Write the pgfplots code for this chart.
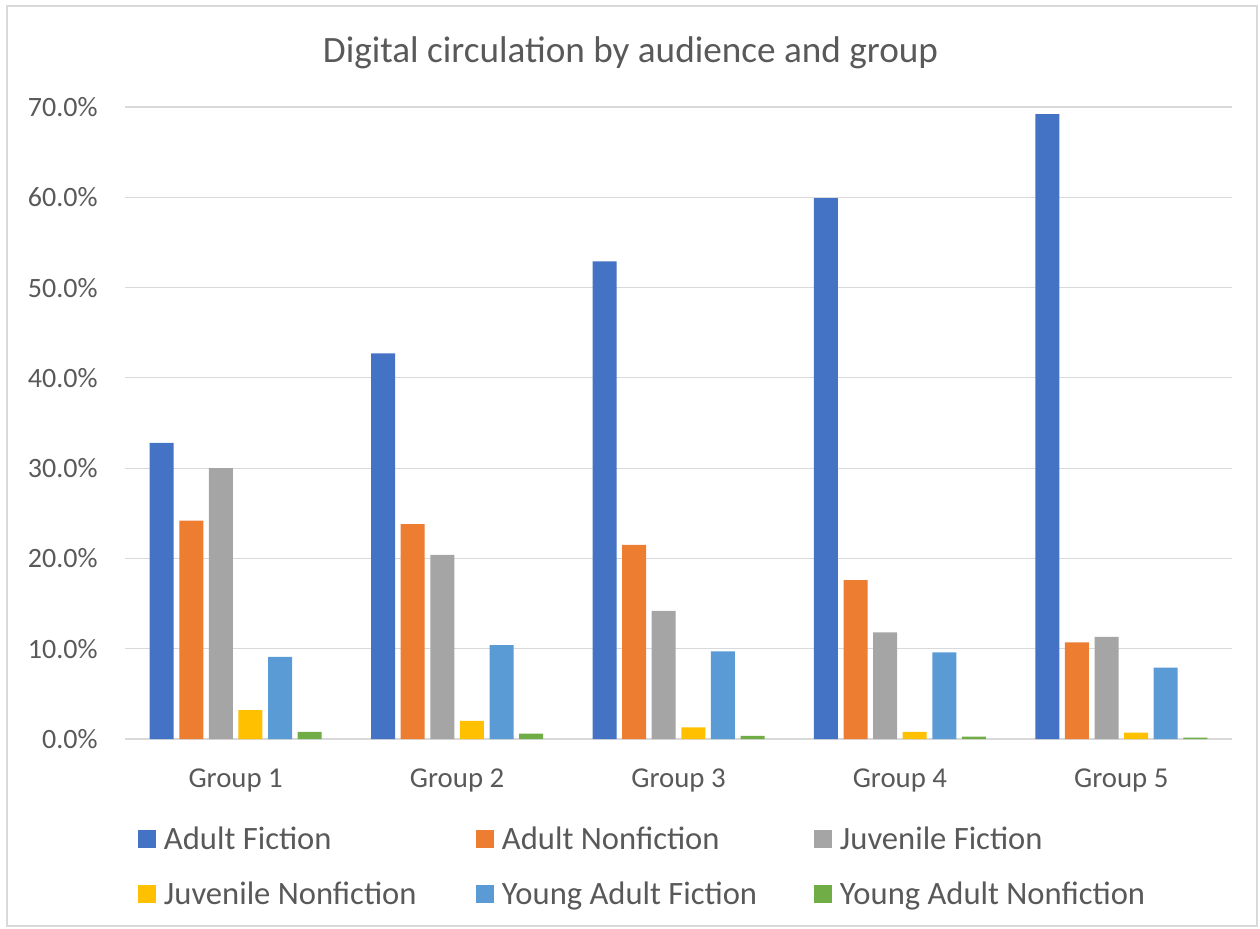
\documentclass[border=0pt]{standalone}
\usepackage{pgfplots}
\pgfplotsset{compat=1.18}
\usepackage{fontspec}
\setmainfont{Carlito}

\definecolor{txt}{HTML}{595959}
\definecolor{gridc}{HTML}{D9D9D9}
\definecolor{cAF}{HTML}{4472C4}
\definecolor{cAN}{HTML}{ED7D31}
\definecolor{cJF}{HTML}{A5A5A5}
\definecolor{cJN}{HTML}{FFC000}
\definecolor{cYF}{HTML}{5B9BD5}
\definecolor{cYN}{HTML}{70AD47}

% share of digital circulation (%) per audience, groups 1-5 at x = 0..4
\pgfplotstableread{
x  AF    AN    JF    JN   YF    YN
0  32.8  24.2  30.0  3.2  9.1   0.8
1  42.7  23.8  20.4  2.0  10.4  0.6
2  52.9  21.5  14.2  1.3  9.7   0.35
3  59.9  17.6  11.8  0.8  9.6   0.25
4  69.2  10.7  11.3  0.7  7.9   0.15
}\circdata

\begin{document}
\begin{tikzpicture}
\useasboundingbox (-62.5bp,-95bp) rectangle (567.5bp,369.5bp);
\draw[gridc, line width=0.6bp] (-59bp,-93.5bp) rectangle (566bp,366.5bp);
\begin{axis}[
  at={(0,0)}, anchor=south west,
  scale only axis,
  width=553.5bp, height=316bp,
  ybar=2.8bp, bar width=12bp,
  xmin=-0.5, xmax=4.5,
  ymin=0, ymax=70,
  ytick={0,10,...,70},
  xtick=data,
  xticklabels={Group 1,Group 2,Group 3,Group 4,Group 5},
  axis line style={draw=none},
  tick style={draw=none},
  ymajorgrids,
  grid style={gridc, line width=0.6bp},
  every axis plot/.append style={draw=none},
  /pgf/number format/assume math mode=true,
  yticklabel={\pgfmathprintnumber[fixed,fixed zerofill,precision=1]{\tick}\%},
  yticklabel style={font=\fontsize{14bp}{16bp}\selectfont, text=txt, inner sep=0pt, anchor=east, xshift=-13.5bp},
  xticklabel style={font=\fontsize{14.4bp}{16bp}\selectfont, text=txt, inner sep=0pt, anchor=center, yshift=-16.5bp},
  title={Digital circulation by audience and group},
  title style={font=\fontsize{18.6bp}{22bp}\selectfont, text=txt, at={(axis description cs:0.5,1)}, anchor=center, yshift=21bp, xshift=-24bp},
  legend columns=3,
  legend image code/.code={\fill[#1] (0bp,-3.5bp) rectangle (9bp,5.5bp);},
  legend style={
    draw=none, fill=none, inner sep=0pt, outer sep=0pt,
    at={(axis description cs:0,0)}, anchor=north west,
    xshift=6.5bp, yshift=-44bp,
    font=\fontsize{16.3bp}{18bp}\selectfont, text=txt,
    row sep=13.5bp,
    /tikz/every odd column/.append style={column sep=4bp},
    /tikz/every even column/.append style={column sep=0pt},
    nodes={inner sep=0pt, text height=11bp, text depth=3bp, text width=156bp, align=flush left},
  },
  legend cell align=left,
]
\addplot[fill=cAF] table[x=x, y=AF] {\circdata};
\addplot[fill=cAN] table[x=x, y=AN] {\circdata};
\addplot[fill=cJF] table[x=x, y=JF] {\circdata};
\addplot[fill=cJN] table[x=x, y=JN] {\circdata};
\addplot[fill=cYF] table[x=x, y=YF] {\circdata};
\addplot[fill=cYN] table[x=x, y=YN] {\circdata};
\legend{Adult Fiction, Adult Nonfiction, Juvenile Fiction, Juvenile Nonfiction, Young Adult Fiction, Young Adult Nonfiction}
\end{axis}
\end{tikzpicture}
\end{document}
